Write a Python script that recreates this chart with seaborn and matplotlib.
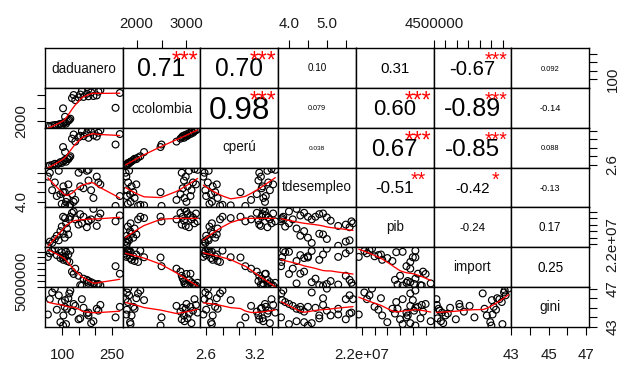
import numpy as np
import pandas as pd
import matplotlib
matplotlib.use("Agg")
import matplotlib.pyplot as plt
import seaborn as sns
from matplotlib.textpath import TextPath
from matplotlib.font_manager import FontProperties
from matplotlib.transforms import ScaledTranslation

# ---------------- data ----------------
variables = ["daduanero", "ccolombia", "cperú", "tdesempleo", "pib", "import", "gini"]

daduanero = [57, 63, 70, 78, 84, 90, 95, 99, 104, 108, 112, 115, 119, 122, 125,
             109, 103, 262, 140,
             130, 150, 165, 180, 195, 205, 135, 155, 175, 275, 188, 210, 160, 216, 180]
ccolombia = [1795, 1780, 1810, 1830, 1805, 1850, 1870, 1825, 1900, 1935, 1880, 1960, 1995, 2030, 2075,
             2150, 2480, 2500, 2800,
             2880, 2905, 2925, 2950, 2960, 2985, 3000, 3020, 3050, 3080, 3100, 3130, 3160, 3190, 3222]
cperu = [2.565, 2.58, 2.59, 2.62, 2.60, 2.63, 2.66, 2.64, 2.68, 2.71, 2.67, 2.74, 2.73, 2.77, 2.80,
         2.90, 3.02, 3.08, 3.15,
         3.22, 3.25, 3.28, 3.24, 3.30, 3.27, 3.32, 3.29, 3.35, 3.33, 3.38, 3.36, 3.40, 3.42, 3.446]
tdesempleo = [5.3, 5.5, 4.6, 5.0, 4.3, 5.6, 4.4, 3.9, 4.8, 4.5, 4.0, 4.2, 4.9, 3.8, 3.85,
              3.82, 4.5, 3.79, 4.1,
              4.4, 5.5, 4.7, 5.1, 4.2, 5.3, 4.0, 4.8, 5.6, 4.3, 4.6, 5.0, 5.69, 4.9, 5.65]
pib = [2.176e7, 2.24e7, 2.22e7, 2.28e7, 2.33e7, 2.26e7, 2.40e7, 2.47e7, 2.36e7, 2.30e7, 2.52e7, 2.44e7, 2.35e7, 2.58e7, 2.62e7,
       2.60e7, 2.62e7, 2.55e7, 2.58e7,
       2.68e7, 2.50e7, 2.62e7, 2.56e7, 2.74e7, 2.48e7, 2.70e7, 2.66e7, 2.46e7, 2.64e7, 2.58e7, 2.61e7, 2.52e7, 2.67e7, 2.55e7]
imports = [7.05e6, 7.35e6, 7.55e6, 7.74e6, 7.20e6, 7.62e6, 6.95e6, 7.45e6, 6.80e6, 7.10e6, 7.48e6, 6.70e6, 7.25e6, 6.62e6, 7.58e6,
           7.02e6, 7.00e6, 6.26e6, 6.05e6,
           5.80e6, 5.45e6, 5.20e6, 5.00e6, 4.80e6, 4.70e6, 5.60e6, 4.65e6, 5.10e6, 5.62e6, 4.90e6, 4.75e6, 4.606e6, 4.62e6, 4.85e6]
gini = [44.3, 45.9, 46.6, 47.0, 44.8, 46.3, 43.5, 45.6, 44.2, 45.1, 43.3, 44.9, 46.0, 46.5, 46.8,
        45.8, 43.15, 44.0, 45.2,
        44.6, 43.8, 45.0, 44.2, 43.6, 44.9, 45.4, 43.9, 44.4, 45.1, 43.4, 44.7, 45.9, 45.3, 44.5]

# upper triangle, row by row
corr_labels = ["0.71", "0.70", "0.10", "0.31", "-0.67", "0.092",
               "0.98", "0.079", "0.60", "-0.89", "-0.14",
               "0.038", "0.67", "-0.85", "0.088",
               "-0.51", "-0.42", "-0.13",
               "-0.24", "0.17",
               "0.25"]
signif_stars = ["***", "***", "", "", "***", "",
                "***", "", "***", "***", "",
                "", "***", "***", "",
                "**", "*", "",
                "", "",
                ""]

# tick values and the labels shown on the outer axes
tick_values = {
    "daduanero": [100, 150, 200, 250],
    "ccolombia": [2000, 2500, 3000],
    "cperú": [2.6, 2.8, 3.0, 3.2, 3.4],
    "tdesempleo": [4.0, 4.5, 5.0, 5.5],
    "pib": [2.2e7, 2.3e7, 2.4e7, 2.5e7, 2.6e7, 2.7e7],
    "import": [4.5e6, 5.0e6, 5.5e6, 6.0e6, 6.5e6, 7.0e6, 7.5e6],
    "gini": [43, 44, 45, 46, 47],
}
x_tick_labels = {
    "daduanero": ["100", "", "", "250"],
    "ccolombia": ["2000", "", "3000"],
    "cperú": ["2.6", "", "", "3.2", ""],
    "tdesempleo": ["4.0", "", "5.0", ""],
    "pib": ["2.2e+07", "", "", "", "", ""],
    "import": ["4500000", "", "", "", "", "", ""],
    "gini": ["43", "", "45", "", "47"],
}
y_tick_labels = {
    "daduanero": ["100", "", "", ""],
    "ccolombia": ["2000", "", ""],
    "cperú": ["2.6", "", "", "", ""],
    "tdesempleo": ["4.0", "", "", ""],
    "pib": ["2.2e+07", "", "", "", "", ""],
    "import": ["", "5000000", "", "", "", "", ""],
    "gini": ["43", "", "", "", "47"],
}

df = pd.DataFrame({
    "daduanero": daduanero, "ccolombia": ccolombia, "cperú": cperu,
    "tdesempleo": tdesempleo, "pib": pib, "import": imports, "gini": gini,
})

# ---------------- style ----------------
sns.set_theme(style="white")
plt.rcParams['font.family'] = ['Liberation Sans', 'DejaVu Sans']
fp = FontProperties(family=['Liberation Sans', 'DejaVu Sans'])

W, H = 625, 365
fig = plt.figure(figsize=(W / 100, H / 100), dpi=100)
fig.patch.set_facecolor("white")
renderer = fig.canvas.get_renderer()

L, R, T, B = 45, 589, 48, 327
n = len(variables)
pw = (R - L) / n
ph = (B - T) / n


def usr(vals):
    lo, hi = float(np.min(vals)), float(np.max(vals))
    d = (hi - lo) * 0.04
    return lo - d, hi + d


def lowess(x, y, f=2 / 3, iters=3):
    x = np.asarray(x, float)
    y = np.asarray(y, float)
    o = np.argsort(x, kind="mergesort")
    x, y = x[o], y[o]
    m = len(x)
    r = int(np.ceil(f * m))
    rob = np.ones(m)
    yest = np.zeros(m)
    span = float(np.max(x) - np.min(x))
    for _ in range(iters + 1):
        for i in range(m):
            d = np.abs(x - x[i])
            h = np.sort(d)[r - 1]
            if h <= 0:
                h = 1e-12
            u = np.clip(d / h, 0, 1)
            w = (1 - u ** 3) ** 3 * rob
            sw = w.sum()
            xm = (w * x).sum() / sw
            ym = (w * y).sum() / sw
            sxx = (w * (x - xm) ** 2).sum()
            b = (w * (x - xm) * (y - ym)).sum() / sxx if sxx > 1e-12 * (span ** 2 + 1e-30) else 0.0
            yest[i] = ym + b * (x[i] - xm)
        res = y - yest
        s = np.median(np.abs(res))
        if s <= 0:
            break
        u = np.clip(res / (6 * s), -1, 1)
        rob = (1 - u ** 2) ** 2
    return x, yest


def width_per_pt(s):
    p = fp.copy()
    p.set_size(100)
    w, h, d = renderer.get_text_width_height_descent(s, p, ismath=False)
    return w / 100.0


def ink_text(ax, x, y, s, size, color):
    p = fp.copy()
    tp = TextPath((0, 0), s, size=size, prop=p)
    bb = tp.get_extents()
    cy = (bb.y0 + bb.y1) / 2.0
    off = ScaledTranslation(0, -cy / 72.0, fig.dpi_scale_trans)
    ax.text(x, y, s, fontsize=size, fontproperties=p, ha="center", va="baseline",
            color=color, transform=ax.transAxes + off)


label_size = 0.9 * pw / max(width_per_pt(v) for v in variables)
tick_fs = 10.8
tick_len = 5.8
star_scale = 0.72

k = 0
for i in range(n):
    for j in range(n):
        rect = [(L + j * pw) / W, 1 - (T + (i + 1) * ph) / H, pw / W, ph / H]
        ax = fig.add_axes(rect)
        ax.set_facecolor("white")
        xv, yv = variables[j], variables[i]
        if i > j:
            sns.scatterplot(data=df, x=xv, y=yv, ax=ax, marker="o", s=24,
                            facecolor="none", edgecolor="black", linewidth=0.85,
                            legend=False, zorder=2)
            lx, ly = lowess(df[xv].values, df[yv].values)
            ax.plot(lx, ly, color="#ff0000", lw=0.95, zorder=3)
        elif i == j:
            ink_text(ax, 0.5, 0.5, variables[i], label_size, "#111111")
        else:
            txt = corr_labels[k]
            st = signif_stars[k]
            k += 1
            r = abs(float(txt))
            base = 0.8 * pw / width_per_pt(txt)
            ink_text(ax, 0.5, 0.5, txt, base * (r + 0.3) / 1.3, "black")
            if st:
                ink_text(ax, 0.8, 0.8, st, base * star_scale, "#ff0000")
        ax.set_xlim(*usr(df[xv]))
        ax.set_ylim(*usr(df[yv]))
        ax.set_xlabel("")
        ax.set_ylabel("")
        ax.set_xticks([])
        ax.set_yticks([])
        for sp in ax.spines.values():
            sp.set_visible(True)
            sp.set_color("black")
            sp.set_linewidth(1.0)
        # outer axes
        if i == n - 1 and j % 2 == 0:
            ax.set_xticks(tick_values[xv])
            ax.set_xticklabels(x_tick_labels[xv])
            ax.tick_params(axis="x", bottom=True, labelbottom=True, top=False, labeltop=False,
                           length=tick_len, width=0.8, pad=9, labelsize=tick_fs,
                           direction="out", color="black", labelcolor="#1a1a1a")
        if i == 0 and j % 2 == 1:
            ax.xaxis.set_ticks_position("top")
            ax.set_xticks(tick_values[xv])
            ax.set_xticklabels(x_tick_labels[xv])
            ax.tick_params(axis="x", top=True, labeltop=True, bottom=False, labelbottom=False,
                           length=tick_len, width=0.8, pad=6.5, labelsize=tick_fs,
                           direction="out", color="black", labelcolor="#1a1a1a")
        if j == 0 and i % 2 == 1:
            ax.set_yticks(tick_values[yv])
            ax.set_yticklabels(y_tick_labels[yv])
            ax.tick_params(axis="y", left=True, labelleft=True, right=False, labelright=False,
                           length=tick_len, width=0.8, pad=6, labelsize=tick_fs,
                           direction="out", color="black", labelcolor="#1a1a1a")
            for lb in ax.get_yticklabels():
                lb.set_rotation(90)
                lb.set_va("center")
        if j == n - 1 and i % 2 == 0:
            ax.yaxis.set_ticks_position("right")
            ax.set_yticks(tick_values[yv])
            ax.set_yticklabels(y_tick_labels[yv])
            ax.tick_params(axis="y", right=True, labelright=True, left=False, labelleft=False,
                           length=tick_len, width=0.8, pad=6, labelsize=tick_fs,
                           direction="out", color="black", labelcolor="#1a1a1a")
            for lb in ax.get_yticklabels():
                lb.set_rotation(90)
                lb.set_va("center")

fig.savefig("out.png", dpi=100, facecolor="white")
